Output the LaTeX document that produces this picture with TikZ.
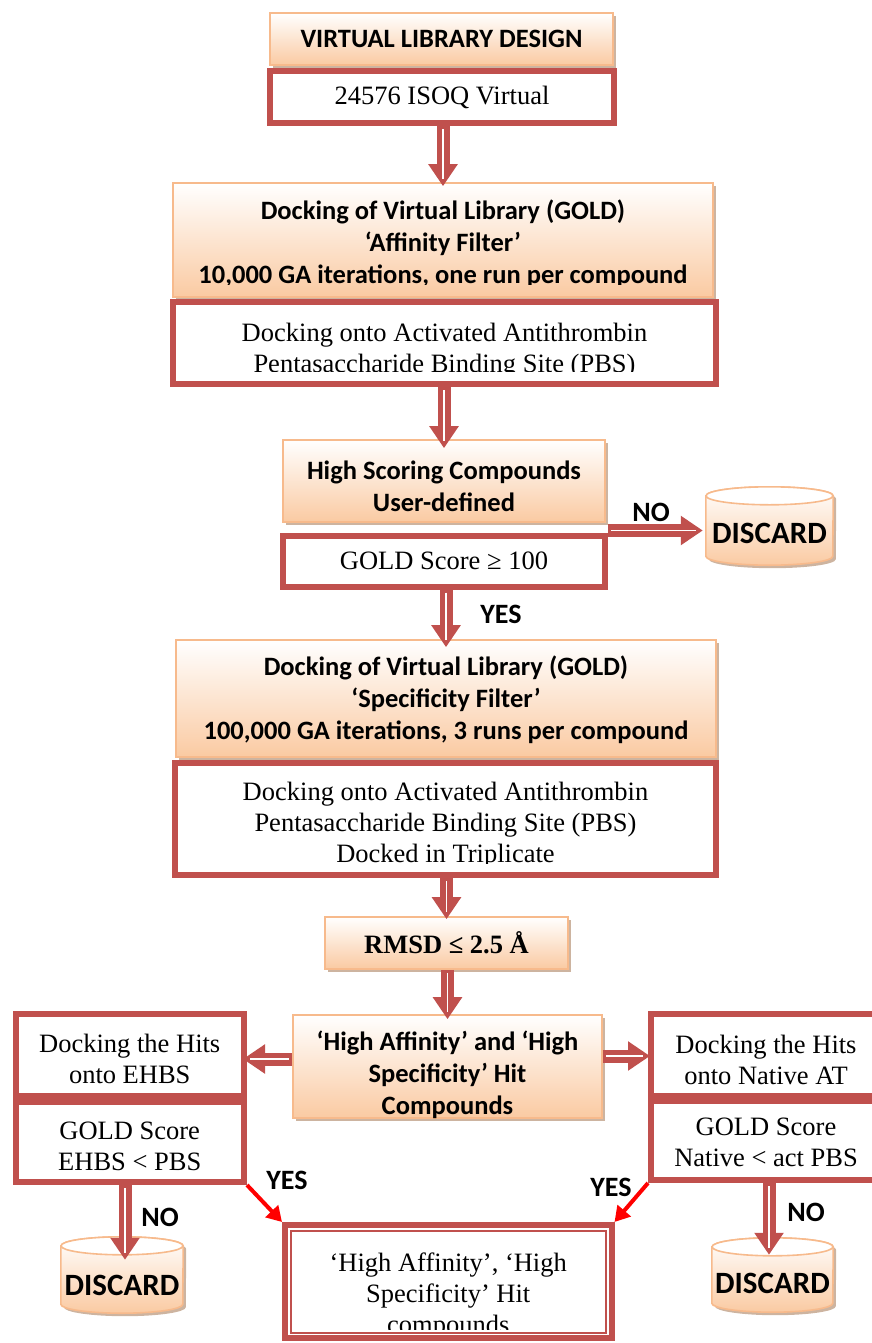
\documentclass[tikz,border=0pt]{standalone}
\usepackage{fontspec}
\setmainfont{Liberation Serif}
\newfontfamily\calfont{Carlito}
\usetikzlibrary{arrows.meta,shadows,calc}
\pgfdeclarelayer{bg}
\pgfsetlayers{bg,main}
\definecolor{rd}{RGB}{192,80,77}
\definecolor{obrd}{RGB}{247,186,140}
\definecolor{obot}{RGB}{250,202,162}
\definecolor{shd}{RGB}{200,172,150}
\definecolor{brightred}{RGB}{255,0,0}
\tikzset{
 obox/.style={rectangle, draw=obrd, line width=1.6pt, top color=white, bottom color=obot,
   drop shadow={shadow xshift=3pt, shadow yshift=-3pt, fill=shd, opacity=0.9},
   font=\calfont\bfseries\fontsize{26.5}{32}\selectfont, align=center, inner sep=0pt},
 rbox/.style={rectangle, draw=rd, line width=6pt, fill=white,
   font=\fontsize{26.5}{31}\selectfont, align=center, inner sep=0pt},
 rtxt/.style={font=\fontsize{26.5}{31}\selectfont, align=center, inner sep=0pt},
 otxt/.style={font=\calfont\bfseries\fontsize{26.5}{32}\selectfont, align=center, inner sep=0pt},
 discnode/.style={rectangle, inner sep=0pt, text depth=0pt,
   font=\calfont\bfseries\fontsize{31}{36}\selectfont},
 lbl/.style={font=\calfont\bfseries\fontsize{28}{32}\selectfont, inner sep=0pt},
 bigarrow/.style={draw=rd, line width=13pt, -{Triangle[length=22pt 0 0,width=28pt 0 0]},
   postaction={draw=white, line width=1.8pt, -, shorten >=7pt, shorten <=3pt}},
 yesarrow/.style={draw=brightred, line width=4pt, -{Triangle[length=15pt 0 0,width=17pt 0 0]}},
 cylbody/.style={draw=obrd, line width=1.6pt, top color=white, bottom color=obot,
   drop shadow={shadow xshift=3pt, shadow yshift=-3pt, fill=shd, opacity=0.9}},
 cyltop/.style={draw=obrd, line width=1.6pt, fill=white},
}
\begin{document}
\begin{tikzpicture}[x=1pt,y=-1pt]
\useasboundingbox (0,0) rectangle (871,1343);

% ---------- main column ----------
\node[obox, minimum width=343pt, minimum height=52pt] (vld) at (441.5,39) {VIRTUAL LIBRARY DESIGN};
\node[rbox, minimum width=344pt, minimum height=52pt] (isoq) at (442,97.5) {24576 ISOQ Virtual};

\node[obox, minimum width=540pt, minimum height=114pt] (dock1) at (443,240) {};
\begin{scope}
 \clip ([shift={(1pt,-1pt)}]dock1.north west) rectangle ([shift={(-1pt,13pt)}]dock1.south east);
 \node[otxt] (dock1t) at (443,244) {Docking of Virtual Library (GOLD)\\‘Affinity Filter’\\10,000 GA iterations, one run per compound};
\end{scope}

\node[rbox, minimum width=543pt, minimum height=82pt] (pbs1) at (444.5,343) {};
\begin{scope}
 \clip ([shift={(3pt,-3pt)}]pbs1.north west) rectangle ([shift={(-3pt,16pt)}]pbs1.south east);
 \node[rtxt] (pbs1t) at (444.5,350.5) {Docking onto Activated Antithrombin\\Pentasaccharide Binding Site (PBS)};
\end{scope}

\node[obox, minimum width=322pt, minimum height=82pt] (hs) at (444,481) {};
\node[otxt] (hst) at (444,486) {High Scoring Compounds\\User-defined};

\node[rbox, minimum width=322pt, minimum height=51pt] (gs1) at (444,561) {GOLD Score ≥ 100};

\node[obox, minimum width=540pt, minimum height=117pt] (spec) at (446,698.5) {};
\node[otxt] (spect) at (446,700) {Docking of Virtual Library (GOLD)\\‘Specificity Filter’\\100,000 GA iterations, 3 runs per compound};

\node[rbox, minimum width=541pt, minimum height=112pt] (pbs2) at (445.5,819) {};
\begin{scope}
 \clip ([shift={(3pt,-3pt)}]pbs2.north west) rectangle ([shift={(-3pt,15pt)}]pbs2.south east);
 \node[rtxt] (pbs2t) at (445.5,825) {Docking onto Activated Antithrombin\\Pentasaccharide Binding Site (PBS)\\Docked in Triplicate};
\end{scope}

\node[obox, minimum width=243pt, minimum height=52pt, font=\bfseries\fontsize{26.5}{31}\selectfont] (rmsd) at (446.5,943) {RMSD ≤ 2.5 Å};

\node[obox, minimum width=309pt, minimum height=103pt] (hasp) at (447.5,1066.5) {};
\node[otxt] (haspt) at (447.5,1075) {‘High Affinity’ and ‘High\\Specificity’ Hit\\Compounds};

% ---------- side boxes ----------
\node[rbox, minimum width=228.5pt, minimum height=82pt] (ehbs1) at (129.75,1055) {};
\node[rtxt] (ehbs1t) at (129.75,1058.5) {Docking the Hits\\onto EHBS};
\node[rbox, minimum width=228.5pt, minimum height=80pt] (ehbs2) at (129.75,1142) {};
\node[rtxt] (ehbs2t) at (129.75,1146) {GOLD Score\\EHBS < PBS};

\node[rbox, minimum width=230pt, minimum height=82pt] (nat1) at (766,1055) {};
\node[rtxt] (nat1t) at (766,1060) {Docking the Hits\\onto Native AT};
\node[rbox, minimum width=230pt, minimum height=79pt] (nat2) at (766,1140.5) {};
\node[rtxt] (nat2t) at (766,1142) {GOLD Score\\Native < act PBS};

% ---------- final box ----------
\node[rbox, minimum width=326.5pt, minimum height=113pt] (fin) at (448.25,1281.5) {};
\draw[rd, line width=2pt] ([shift={(8.5pt,-8.5pt)}]fin.north west) rectangle ([shift={(-8.5pt,8.5pt)}]fin.south east);
\begin{scope}
 \clip ([shift={(9.5pt,-9.5pt)}]fin.north west) rectangle ([shift={(-9.5pt,12pt)}]fin.south east);
 \node[rtxt] (fint) at (448.25,1296) {‘High Affinity’, ‘High\\Specificity’ Hit\\compounds};
\end{scope}

% ---------- discard cylinders ----------
\node[discnode, minimum width=127pt, minimum height=78pt, text height=34pt] (disc1) at (769.5,526) {DISCARD};
\node[discnode, minimum width=122pt, minimum height=76pt, text height=40pt] (disc2) at (122,1275) {DISCARD};
\node[discnode, minimum width=121pt, minimum height=74pt, text height=36pt] (disc3) at (772.5,1275) {DISCARD};
\begin{pgfonlayer}{bg}
 \foreach \d/\rx in {disc1/63.5pt, disc2/61pt, disc3/60.5pt}{
  \path[cylbody] ([yshift=-9pt]\d.north west) -- ([yshift=9pt]\d.south west)
     arc[start angle=180, end angle=360, x radius=\rx, y radius=9pt]
     -- ([yshift=-9pt]\d.north east)
     arc[start angle=0, end angle=180, x radius=\rx, y radius=9pt] -- cycle;
  \path[cyltop] ([yshift=-9pt]\d.north) ellipse [x radius=\rx, y radius=9pt];
 }
\end{pgfonlayer}

% ---------- connectors ----------
\draw[bigarrow] (isoq.south -| dock1.north) -- ([yshift=-4pt]dock1.north);
\draw[bigarrow] (pbs1.south -| hs.north) -- ([yshift=-9pt]hs.north);
\draw[bigarrow] (gs1.south -| spec.north) -- ([yshift=-8pt]spec.north);
\draw[bigarrow] (pbs2.south -| rmsd.north) -- ([yshift=-3pt]rmsd.north);
\draw[bigarrow] (rmsd.south -| hasp.north) -- ([yshift=-5pt]hasp.north);
\draw[bigarrow] ([yshift=7.5pt]hasp.west) -- ([xshift=-4pt,yshift=7.5pt]hasp.west -| ehbs1.east);
\draw[bigarrow] ([yshift=10.5pt]hasp.east) -- ([xshift=2pt,yshift=10.5pt]hasp.east -| nat1.west);
\draw[bigarrow] ([yshift=2pt]gs1.north east) -- ([xshift=-3pt,yshift=2pt]gs1.north east -| disc1.west);
\draw[bigarrow] ([xshift=3pt]disc2.north |- ehbs2.south) -- ([xshift=3pt,yshift=-23pt]disc2.north);
\draw[bigarrow] ([xshift=-3.5pt]disc3.north |- nat2.south) -- ([xshift=-3.5pt,yshift=-17pt]disc3.north);
\draw[yesarrow] (ehbs2.south east) -- (fin.north west);
\draw[yesarrow] (nat2.south west) -- (fin.north east);

% ---------- labels ----------
\node[lbl] (no1) at (651,512) {NO};
\node[lbl] (yes1) at (501,614) {YES};
\node[lbl] (no2) at (160,1217) {NO};
\node[lbl] (no3) at (806,1212) {NO};
\node[lbl] (yes2) at (287,1180) {YES};
\node[lbl] (yes3) at (611,1187) {YES};
\end{tikzpicture}
\end{document}
